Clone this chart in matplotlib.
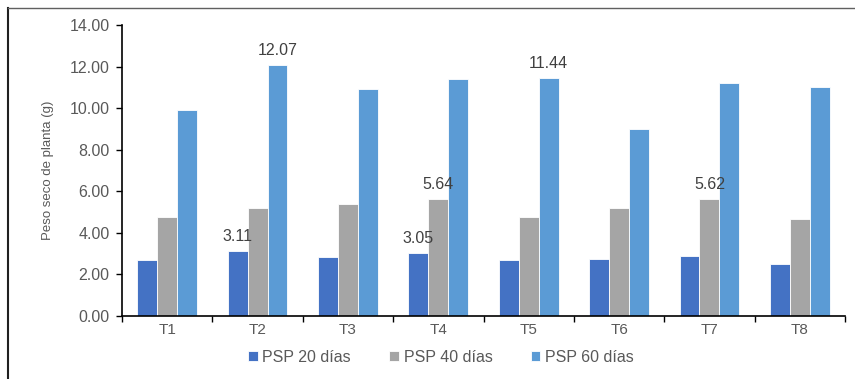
import matplotlib
matplotlib.use("Agg")
import matplotlib.pyplot as plt
import numpy as np
from matplotlib.lines import Line2D

categories = ["T1", "T2", "T3", "T4", "T5", "T6", "T7", "T8"]
psp20 = [2.70, 3.11, 2.84, 3.05, 2.71, 2.74, 2.87, 2.48]
psp40 = [4.77, 5.18, 5.38, 5.64, 4.74, 5.18, 5.62, 4.65]
psp60 = [9.89, 12.07, 10.93, 11.39, 11.44, 8.99, 11.19, 11.02]
series_names = ["PSP 20 días", "PSP 40 días", "PSP 60 días"]
yticks = [0, 2, 4, 6, 8, 10, 12, 14]
# labelled bars: (series index, category index)
labelled = [(0, 1), (2, 1), (0, 3), (1, 3), (2, 4), (1, 6)]

plt.rcParams['font.family'] = ['Liberation Sans', 'DejaVu Sans']
colors = ["#4472C4", "#A5A5A5", "#5B9BD5"]
tick_col = "#595959"

fig = plt.figure(figsize=(8.55, 3.79), dpi=100)
ax = fig.add_axes([122/855, 1-316/379, (845-122)/855, (316-25)/379])

x = np.arange(len(categories))
w = 0.22
series = [psp20, psp40, psp60]
bars = []
for i, (vals, c, name) in enumerate(zip(series, colors, series_names)):
    b = ax.bar(x + (i-1)*w, vals, w, color=c, edgecolor="white", linewidth=0.6, label=name)
    bars.append(b)

for si, ci in labelled:
    v = series[si][ci]
    ax.annotate(f"{v:.2f}", (x[ci] + (si-1)*w, v), xytext=(0, 5), textcoords="offset points",
                ha="center", va="bottom", fontsize=11.5, color="#404040")

ax.set_xlim(-0.5, len(categories)-0.5)
ax.set_ylim(0, 14)
ax.set_yticks(yticks)
ax.set_yticklabels([f"{t:.2f}" for t in yticks], fontsize=11.5, color=tick_col)
ax.set_xticks(x)
ax.set_xticklabels(categories, fontsize=11, color=tick_col)
ax.tick_params(axis='x', length=0, pad=5)
ax.set_xticks(np.arange(-0.5, len(categories), 1), minor=True)
ax.tick_params(axis='x', which='minor', length=4, width=1, color='black', direction='out')
ax.tick_params(axis='y', length=4, width=1, color='black', direction='out', pad=5)
for s in ["top", "right"]:
    ax.spines[s].set_visible(False)
ax.spines["left"].set_linewidth(1.2)
ax.spines["bottom"].set_linewidth(1.2)
ax.set_ylabel("Peso seco de planta (g)", fontsize=9.5, color=tick_col, labelpad=11)

leg = fig.legend(handles=bars, labels=series_names, loc="center", bbox_to_anchor=(441/855, 1-357/379),
                 ncol=3, frameon=False, fontsize=11.5, handlelength=0.6, handleheight=0.6,
                 handletextpad=0.3, columnspacing=2.4)
for t in leg.get_texts():
    t.set_color(tick_col)

fig.add_artist(Line2D([8/855, 8/855], [1-8/379, 0], transform=fig.transFigure, color="#202020", linewidth=1.5))
fig.add_artist(Line2D([8/855, 1], [1-8/379, 1-8/379], transform=fig.transFigure, color="#606060", linewidth=1.0))

fig.savefig("out.png", dpi=100)
